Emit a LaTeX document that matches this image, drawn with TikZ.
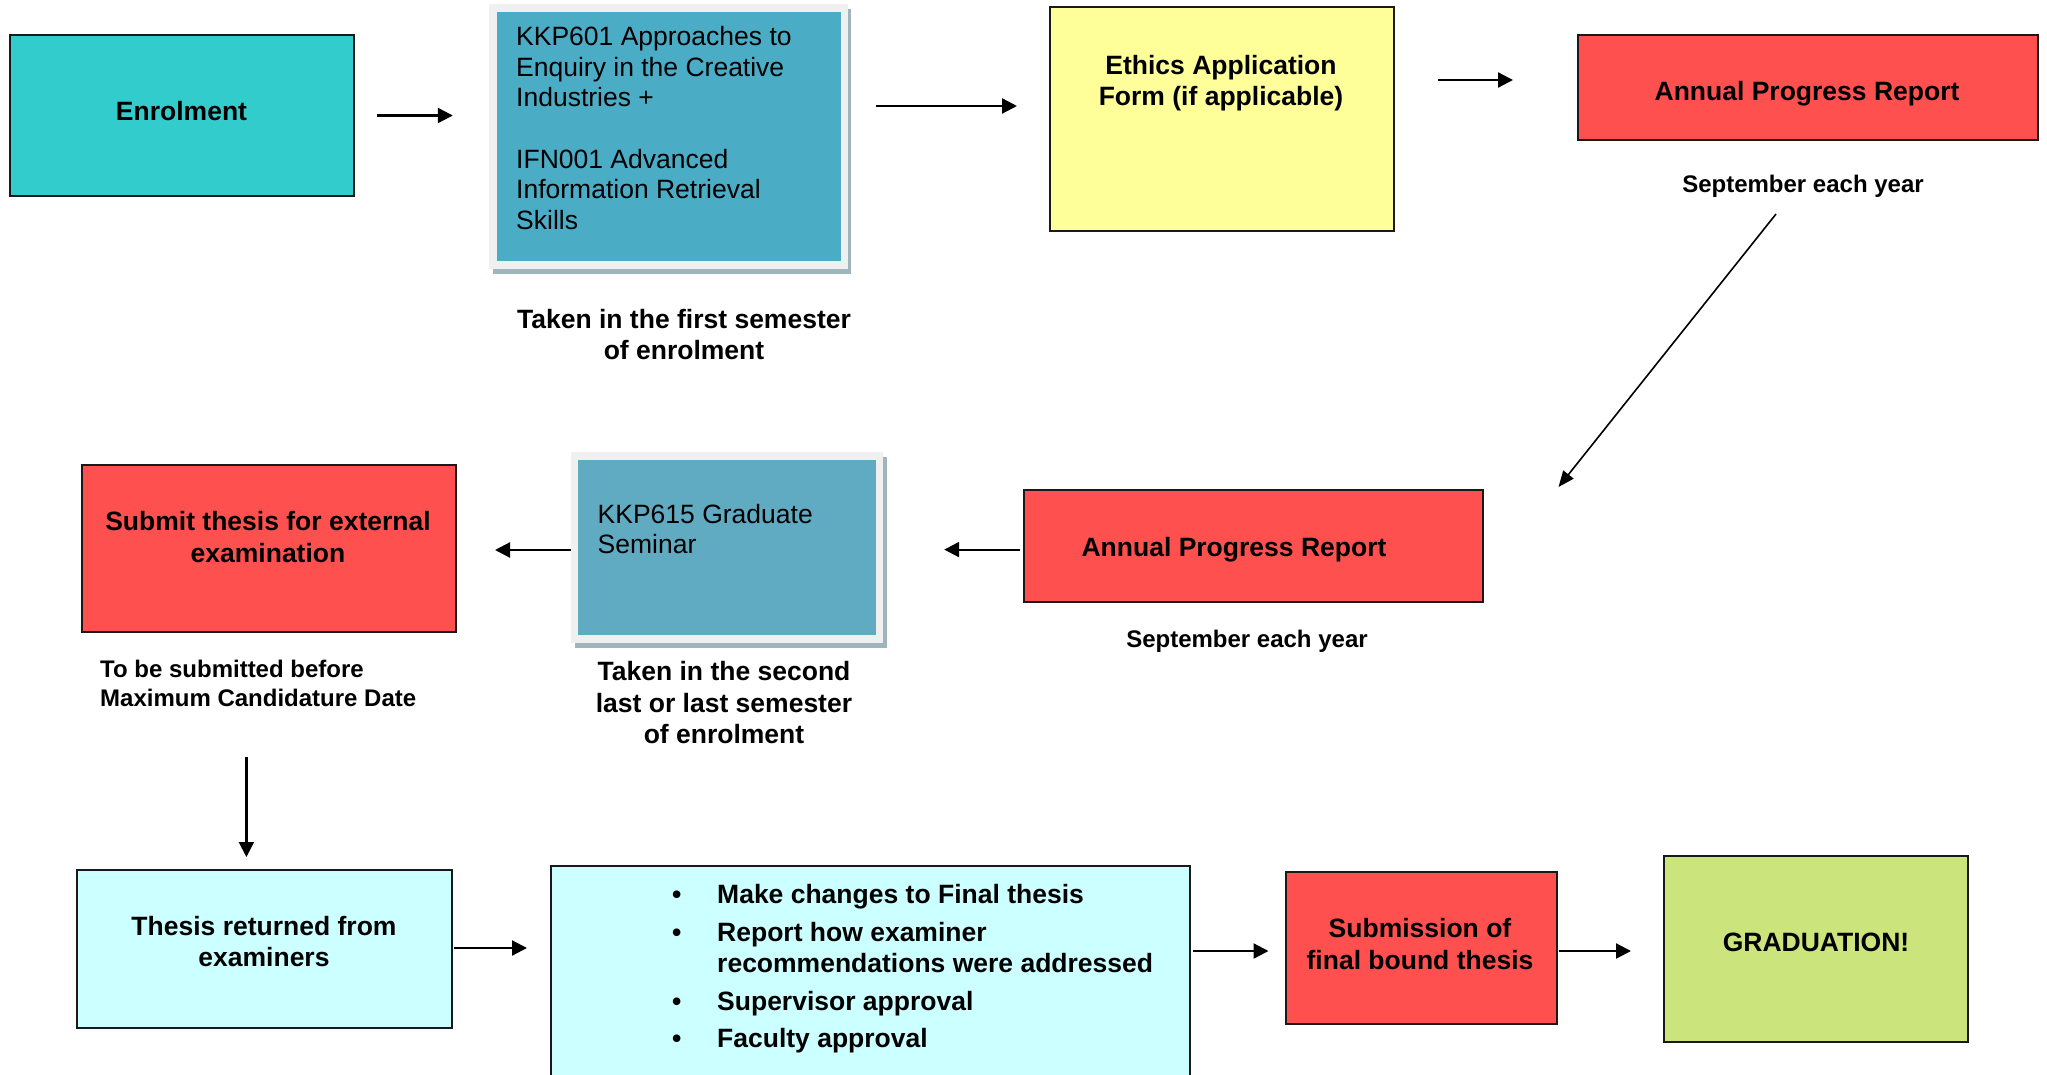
\documentclass[tikz,border=0pt]{standalone}
\usepackage{fontspec}
\setmainfont{Liberation Sans}
\usetikzlibrary{arrows.meta}

\definecolor{enrolcyan}{HTML}{33CCCC}
\definecolor{unitblue}{HTML}{4BACC6}
\definecolor{seminarblue}{HTML}{60ABC1}
\definecolor{paleframe}{HTML}{F0F0F0}
\definecolor{frameshadow}{HTML}{A0B4BE}
\definecolor{ethicsyellow}{HTML}{FFFF99}
\definecolor{reportred}{HTML}{FF5050}
\definecolor{palecyan}{HTML}{CCFFFF}
\definecolor{gradgreen}{HTML}{CCE47C}

\begin{document}
\begin{tikzpicture}[x=1pt, y=-1pt,
        box/.style={draw=black!90, line width=2pt, inner sep=0pt},
        framebox/.style={fill=paleframe, inner sep=0pt},
        shadowbox/.style={fill=frameshadow, inner sep=0pt},
        txt/.style={font=\fontsize{26.5}{31.5}\selectfont\bfseries, inner sep=0pt, align=center, anchor=base},
        note/.style={font=\fontsize{24}{29}\selectfont\bfseries, inner sep=0pt, align=center, anchor=base},
        plaintxt/.style={font=\fontsize{26.5}{30.7}\selectfont, inner sep=0pt, align=left, anchor=base west},
        arr/.style={-{Triangle[length=15pt,width=15pt]}, line width=2.2pt},
        thinarr/.style={-{Triangle[length=16pt,width=13pt]}, line width=1.6pt}]
    \useasboundingbox (0,0) rectangle (2047,1075);

    % first row (text nodes sit on the baseline of their last line)
    \node[box, fill=enrolcyan, minimum width=344pt, minimum height=161pt] (enrol) at (182,115.5) {};
    \node[txt] (enroltxt) at (181.5,120.5) {Enrolment};

    \node[shadowbox, minimum width=358pt, minimum height=265pt] (kkpashadow) at (672,141.5) {};
    \node[framebox, minimum width=359pt, minimum height=265pt] (kkpa) at (668.5,136.5) {};
    \node[fill=unitblue, inner sep=0pt, minimum width=344pt, minimum height=249pt] (kkpainner) at (669,136.5) {};
    \node[plaintxt] (kkpatxt) at (516,229.7) {KKP601 Approaches to\\Enquiry in the Creative\\Industries +\\[30.7pt]IFN001 Advanced\\Information Retrieval\\Skills};
    \node[txt] (firstsem) at (684,359.5) {Taken in the first semester\\of enrolment};

    \node[box, fill=ethicsyellow, minimum width=344pt, minimum height=223.5pt] (ethics) at (1222,119) {};
    \node[txt] (ethicstxt) at (1221,106) {Ethics Application\\Form (if applicable)};

    \node[box, fill=reportred, minimum width=460pt, minimum height=105pt] (apra) at (1807.5,87.5) {};
    \node[txt] (apratxt) at (1807,101) {Annual Progress Report};
    \node[note] (sepa) at (1803,193) {September each year};

    % second row
    \node[box, fill=reportred, minimum width=459.5pt, minimum height=112.5pt] (aprb) at (1253.25,545.75) {};
    \node[txt] (aprbtxt) at (1234,556.5) {Annual Progress Report};
    \node[note] (sepb) at (1247,647) {September each year};

    \node[shadowbox, minimum width=311.5pt, minimum height=191pt] (kkpbshadow) at (730.75,552.5) {};
    \node[framebox, minimum width=312pt, minimum height=191pt] (kkpb) at (727,547.5) {};
    \node[fill=seminarblue, inner sep=0pt, minimum width=297.5pt, minimum height=175pt] (kkpbinner) at (726.75,547.5) {};
    \node[plaintxt] (kkpbtxt) at (597.5,553.7) {KKP615 Graduate\\Seminar};
    \node[txt] (secondsem) at (724,743.5) {Taken in the second\\last or last semester\\of enrolment};

    \node[box, fill=reportred, minimum width=374.5pt, minimum height=167pt] (submit) at (268.75,548.5) {};
    \node[txt] (submittxt) at (268,562) {Submit thesis for external\\examination};
    \node[note, align=left, anchor=base west] (before) at (100,706) {To be submitted before\\Maximum Candidature Date};

    % third row
    \node[box, fill=palecyan, minimum width=375pt, minimum height=158pt] (returned) at (264,949) {};
    \node[txt] (returnedtxt) at (264,966.5) {Thesis returned from\\examiners};

    \node[box, fill=palecyan, minimum width=639pt, minimum height=254pt] (changes) at (870.5,993) {};
    \node[txt, align=left, anchor=base west] (changestxt) at (672,1047.5) {\makebox[45pt][l]{\textbullet}Make changes to Final thesis\\[6pt]
        \makebox[45pt][l]{\textbullet}Report how examiner\\
        \hspace*{45pt}recommendations were addressed\\[6pt]
        \makebox[45pt][l]{\textbullet}Supervisor approval\\[6pt]
        \makebox[45pt][l]{\textbullet}Faculty approval};

    \node[box, fill=reportred, minimum width=271pt, minimum height=152pt] (final) at (1421,948) {};
    \node[txt] (finaltxt) at (1420,969) {Submission of\\final bound thesis};

    \node[box, fill=gradgreen, minimum width=304.5pt, minimum height=186pt] (grad) at (1815.75,948.5) {};
    \node[txt] (gradtxt) at (1816,951.7) {GRADUATION!};

    % arrows
    \draw[arr, shorten <=22pt, shorten >=36pt] (enrol.east) -- (enrol.east -| kkpa.west);
    \coordinate (kkpaout) at ([yshift=30.5pt]kkpa.east);
    \draw[arr, shorten <=28pt, shorten >=32pt] (kkpaout) -- (kkpaout -| ethics.west);
    \coordinate (ethicsout) at ([yshift=39pt]ethics.east);
    \draw[arr, shorten <=43pt, shorten >=63.5pt] (ethicsout) -- (ethicsout -| apra.west);
    \coordinate (diagstart) at (1776,214);
    \draw[thinarr] (diagstart) -- ([xshift=74.5pt,yshift=1.5pt]aprb.north east);
    \coordinate (aprbout) at ([yshift=-3.85pt]aprb.west);
    \draw[arr, shorten <=2.5pt, shorten >=61pt] (aprbout) -- (aprbout -| kkpb.east);
    \coordinate (kkpbout) at ([yshift=-2.5pt]kkpb.west);
    \draw[arr, shorten >=38pt] (kkpbout) -- (kkpbout -| submit.east);
    \coordinate (submitout) at ([xshift=-22.35pt]submit.south);
    \draw[arr, shorten <=124pt, shorten >=12pt] (submitout) -- (submitout |- returned.north);
    \coordinate (returnedout) at ([yshift=1pt]returned.east);
    \draw[arr, shorten <=1.5pt, shorten >=23pt] (returnedout) -- (returnedout -| changes.west);
    \coordinate (finalin) at ([yshift=-3pt]final.west);
    \draw[arr, shorten <=2pt, shorten >=16pt] (finalin -| changes.east) -- (finalin);
    \coordinate (finalout) at ([yshift=-3pt]final.east);
    \draw[arr, shorten <=1pt, shorten >=31.5pt] (finalout) -- (finalout -| grad.west);
\end{tikzpicture}
\end{document}
